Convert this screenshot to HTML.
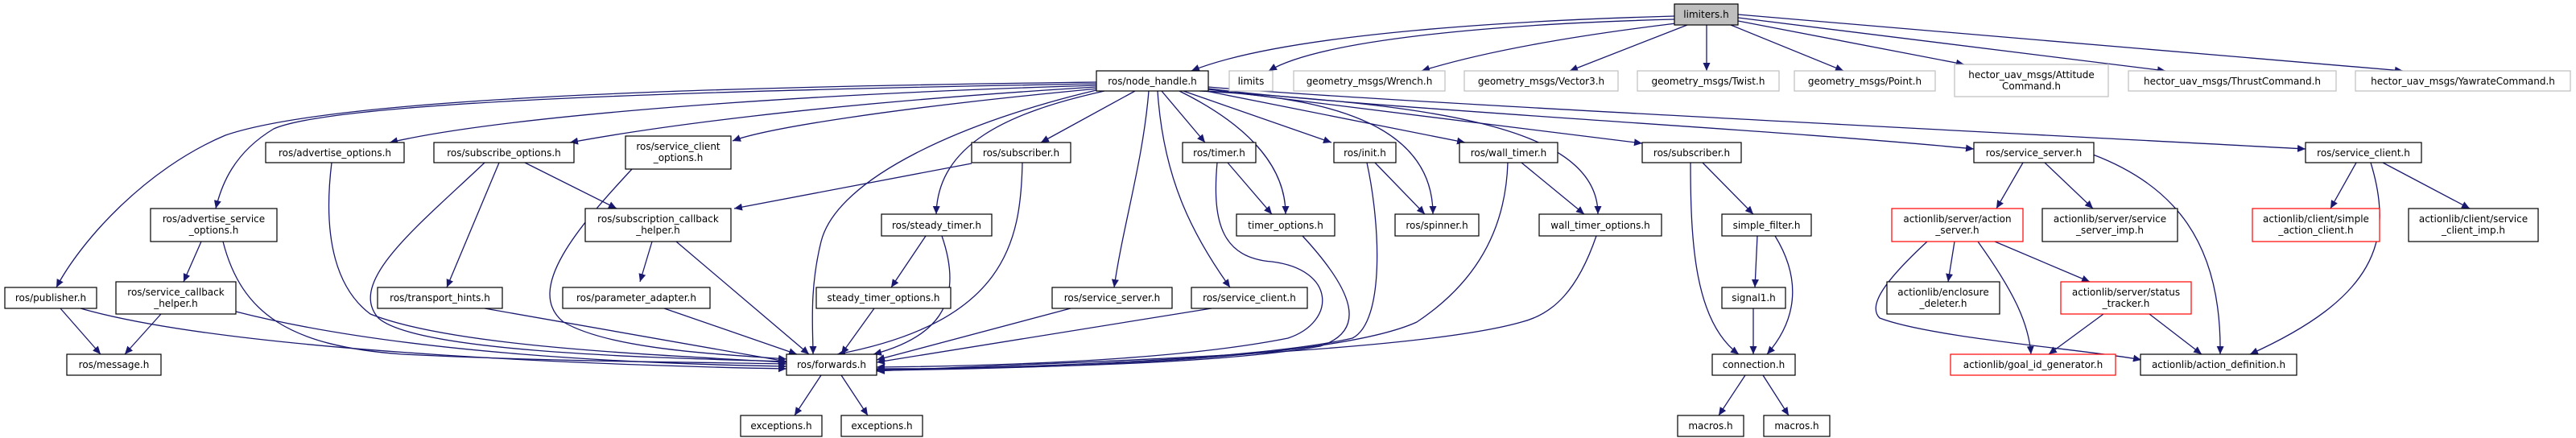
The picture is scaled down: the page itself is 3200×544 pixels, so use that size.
<!DOCTYPE html>
<html><head><meta charset="utf-8"><style>
html,body{margin:0;padding:0;background:#fff;}
svg{display:block;}
text{font-family:"DejaVu Sans","Liberation Sans",sans-serif;font-size:12px;fill:#000;}
.e{fill:none;stroke:#191970;stroke-width:1.3;marker-end:url(#a);}
.n{fill:#fff;stroke:#000;stroke-width:1.2;}
.g{fill:#fff;stroke:#bfbfbf;stroke-width:1.2;}
.r{fill:#fff;stroke:#ff0000;stroke-width:1.2;}
</style></head><body>
<svg width="3200" height="544" viewBox="0 0 3200 544" xmlns="http://www.w3.org/2000/svg">
<defs><marker id="a" markerUnits="userSpaceOnUse" markerWidth="10" markerHeight="9" refX="10" refY="4.5" orient="auto"><path d="M0,0 L10,4.5 L0,9 z" fill="#191970"/></marker></defs>
<g>
<!-- limiters edges -->
<path class="e" d="M2080,20 C1900,25 1600,40 1480,88"/>
<path class="e" d="M2080,24 C1850,30 1640,50 1576,88"/>
<path class="e" d="M2082,29 C1950,45 1840,65 1766,88"/>
<path class="e" d="M2096,31 L1950,88"/>
<path class="e" d="M2120,31 L2120,88"/>
<path class="e" d="M2150,31 L2290,88"/>
<path class="e" d="M2159,26 L2440,80"/>
<path class="e" d="M2159,22 L2690,88"/>
<path class="e" d="M2159,18 L2985,88"/>
<!-- node_handle edges -->
<path class="e" d="M1362,102 C900,108 420,120 280,168 C180,210 100,300 70,357"/>
<path class="e" d="M1362,104 C900,112 420,125 340,160 C290,190 275,230 268,259"/>
<path class="e" d="M1362,106 C900,120 600,150 484,177"/>
<path class="e" d="M1362,108 C1000,130 800,160 708,177"/>
<path class="e" d="M1364,110 C1100,135 950,160 910,175"/>
<path class="e" d="M1362,112 C1200,150 1040,220 1020,300 C1005,360 1010,410 1010,440"/>
<path class="e" d="M1372,113 C1250,140 1165,180 1163,266"/>
<path class="e" d="M1410,113 L1293,177"/>
<path class="e" d="M1427,113 C1420,200 1395,280 1384,357"/>
<path class="e" d="M1438,113 C1445,220 1480,290 1528,357"/>
<path class="e" d="M1443,113 L1497,177"/>
<path class="e" d="M1465,113 C1540,150 1597,200 1597,266"/>
<path class="e" d="M1470,113 L1654,177"/>
<path class="e" d="M1490,113 C1640,120 1780,150 1780,266"/>
<path class="e" d="M1498,113 L1820,177"/>
<path class="e" d="M1500,113 C1750,130 1985,150 1985,266"/>
<path class="e" d="M1501,111 L2040,178"/>
<path class="e" d="M1501,110 C1700,135 2200,160 2452,185"/>
<path class="e" d="M1501,108 C1700,125 2300,155 2864,185"/>
<!-- left cluster -->
<path class="e" d="M250,300 L228,350"/>
<path class="e" d="M277,300 C300,390 360,430 500,440 C700,450 900,450 977,452"/>
<path class="e" d="M75,383 L125,440"/>
<path class="e" d="M100,383 C300,440 800,455 977,458"/>
<path class="e" d="M200,390 L155,440"/>
<path class="e" d="M293,387 C500,440 800,452 977,455"/>
<path class="e" d="M412,202 C400,300 420,360 460,390 C560,430 800,440 977,450"/>
<path class="e" d="M602,202 C520,280 430,350 470,395 C520,440 850,445 977,449"/>
<path class="e" d="M620,202 L555,357"/>
<path class="e" d="M652,202 L766,259"/>
<path class="e" d="M785,210 C720,280 650,360 700,400 C760,435 900,440 977,446"/>
<path class="e" d="M1207,203 L912,259"/>
<path class="e" d="M810,300 L795,350"/>
<path class="e" d="M840,300 L1005,440"/>
<path class="e" d="M602,383 L977,449"/>
<path class="e" d="M825,383 L990,440"/>
<path class="e" d="M1270,202 C1268,300 1250,400 1040,440"/>
<path class="e" d="M1150,293 L1107,357"/>
<path class="e" d="M1170,293 C1200,380 1160,420 1085,440"/>
<path class="e" d="M1086,383 L1045,440"/>
<path class="e" d="M1330,383 L1089,447"/>
<path class="e" d="M1505,383 L1089,450"/>
<path class="e" d="M1512,202 C1505,280 1520,320 1580,325 C1660,335 1660,400 1600,420 C1450,450 1200,455 1089,456"/>
<path class="e" d="M1525,202 L1580,266"/>
<path class="e" d="M1618,293 C1680,360 1700,410 1640,430 C1500,455 1200,458 1089,458"/>
<path class="e" d="M1698,202 C1715,280 1720,400 1680,420 C1550,450 1200,458 1089,459"/>
<path class="e" d="M1708,202 L1770,266"/>
<path class="e" d="M1873,202 C1870,300 1820,360 1760,400 C1650,450 1250,458 1089,460"/>
<path class="e" d="M1890,202 L1968,266"/>
<path class="e" d="M1983,293 C1960,360 1930,390 1890,400 C1750,440 1300,450 1089,461"/>
<path class="e" d="M1020,466 L987,516"/>
<path class="e" d="M1045,466 L1078,516"/>
<!-- subscriber2 cluster -->
<path class="e" d="M2100,202 C2100,300 2105,400 2160,440"/>
<path class="e" d="M2115,202 L2178,266"/>
<path class="e" d="M2183,293 L2180,357"/>
<path class="e" d="M2205,293 C2240,350 2230,400 2195,440"/>
<path class="e" d="M2178,383 L2178,440"/>
<path class="e" d="M2168,466 L2135,516"/>
<path class="e" d="M2190,466 L2222,516"/>
<!-- actionlib -->
<path class="e" d="M2513,202 L2480,259"/>
<path class="e" d="M2540,202 L2600,259"/>
<path class="e" d="M2600,192 C2700,230 2760,300 2758,440"/>
<path class="e" d="M2927,202 L2895,259"/>
<path class="e" d="M2960,202 L3068,259"/>
<path class="e" d="M2945,202 C2975,300 2950,370 2795,440"/>
<path class="e" d="M2394,300 C2340,350 2320,380 2335,395 C2400,420 2600,435 2660,447"/>
<path class="e" d="M2428,300 L2420,350"/>
<path class="e" d="M2457,300 C2500,360 2520,400 2523,440"/>
<path class="e" d="M2478,300 L2596,350"/>
<path class="e" d="M2613,390 L2545,440"/>
<path class="e" d="M2670,390 L2735,440"/>
</g>
<g text-anchor="middle">
<rect x="2080" y="5" width="79" height="26" fill="#bfbfbf" stroke="#000" stroke-width="1.2"/><text x="2119.5" y="22">limiters.h</text>
<rect class="n" x="1362" y="88" width="139" height="25"/><text x="1431.5" y="105">ros/node_handle.h</text>
<rect class="g" x="1527" y="88" width="54" height="25"/><text x="1554" y="105">limits</text>
<rect class="g" x="1607" y="88" width="188" height="25"/><text x="1701" y="105">geometry_msgs/Wrench.h</text>
<rect class="g" x="1819" y="88" width="191" height="25"/><text x="1914.5" y="105">geometry_msgs/Vector3.h</text>
<rect class="g" x="2034" y="88" width="176" height="25"/><text x="2122" y="105">geometry_msgs/Twist.h</text>
<rect class="g" x="2229" y="88" width="175" height="25"/><text x="2316.5" y="105">geometry_msgs/Point.h</text>
<rect class="g" x="2428" y="80" width="191" height="40"/><text x="2523.5" y="97">hector_uav_msgs/Attitude</text><text x="2523.5" y="111">Command.h</text>
<rect class="g" x="2644" y="88" width="258" height="25"/><text x="2773" y="105">hector_uav_msgs/ThrustCommand.h</text>
<rect class="g" x="2926" y="88" width="267" height="25"/><text x="3059.5" y="105">hector_uav_msgs/YawrateCommand.h</text>

<rect class="n" x="330" y="177" width="172" height="25"/><text x="416" y="194">ros/advertise_options.h</text>
<rect class="n" x="539" y="177" width="174" height="25"/><text x="626" y="194">ros/subscribe_options.h</text>
<rect class="n" x="777" y="169" width="131" height="41"/><text x="842.5" y="186">ros/service_client</text><text x="842.5" y="200">_options.h</text>
<rect class="n" x="1207" y="177" width="123" height="25"/><text x="1268.5" y="194">ros/subscriber.h</text>
<rect class="n" x="1469" y="177" width="91" height="25"/><text x="1514.5" y="194">ros/timer.h</text>
<rect class="n" x="1657" y="177" width="77" height="25"/><text x="1695.5" y="194">ros/init.h</text>
<rect class="n" x="1813" y="177" width="122" height="25"/><text x="1874" y="194">ros/wall_timer.h</text>
<rect class="n" x="2040" y="177" width="123" height="25"/><text x="2101.5" y="194">ros/subscriber.h</text>
<rect class="n" x="2452" y="177" width="149" height="25"/><text x="2526.5" y="194">ros/service_server.h</text>
<rect class="n" x="2864" y="177" width="144" height="25"/><text x="2936" y="194">ros/service_client.h</text>

<rect class="n" x="187" y="259" width="157" height="41"/><text x="265.5" y="276">ros/advertise_service</text><text x="265.5" y="290">_options.h</text>
<rect class="n" x="727" y="259" width="181" height="41"/><text x="817.5" y="276">ros/subscription_callback</text><text x="817.5" y="290">_helper.h</text>
<rect class="n" x="1095" y="266" width="137" height="27"/><text x="1163.5" y="284">ros/steady_timer.h</text>
<rect class="n" x="1536" y="266" width="122" height="27"/><text x="1597" y="284">timer_options.h</text>
<rect class="n" x="1733" y="266" width="104" height="27"/><text x="1785" y="284">ros/spinner.h</text>
<rect class="n" x="1912" y="266" width="152" height="27"/><text x="1988" y="284">wall_timer_options.h</text>
<rect class="n" x="2139" y="266" width="111" height="27"/><text x="2194.5" y="284">simple_filter.h</text>
<rect class="r" x="2350" y="259" width="163" height="41"/><text x="2431.5" y="276">actionlib/server/action</text><text x="2431.5" y="290">_server.h</text>
<rect class="n" x="2537" y="259" width="168" height="41"/><text x="2621" y="276">actionlib/server/service</text><text x="2621" y="290">_server_imp.h</text>
<rect class="r" x="2798" y="259" width="158" height="41"/><text x="2877" y="276">actionlib/client/simple</text><text x="2877" y="290">_action_client.h</text>
<rect class="n" x="2992" y="259" width="161" height="41"/><text x="3072.5" y="276">actionlib/client/service</text><text x="3072.5" y="290">_client_imp.h</text>

<rect class="n" x="6" y="357" width="114" height="26"/><text x="63" y="374">ros/publisher.h</text>
<rect class="n" x="144" y="350" width="149" height="40"/><text x="218.5" y="367">ros/service_callback</text><text x="218.5" y="381">_helper.h</text>
<rect class="n" x="469" y="357" width="155" height="26"/><text x="546.5" y="374">ros/transport_hints.h</text>
<rect class="n" x="699" y="357" width="183" height="26"/><text x="790.5" y="374">ros/parameter_adapter.h</text>
<rect class="n" x="1014" y="357" width="167" height="26"/><text x="1097.5" y="374">steady_timer_options.h</text>
<rect class="n" x="1307" y="357" width="149" height="26"/><text x="1381.5" y="374">ros/service_server.h</text>
<rect class="n" x="1480" y="357" width="144" height="26"/><text x="1552" y="374">ros/service_client.h</text>
<rect class="n" x="2139" y="357" width="79" height="26"/><text x="2178.5" y="374">signal1.h</text>
<rect class="n" x="2344" y="350" width="140" height="40"/><text x="2414" y="367">actionlib/enclosure</text><text x="2414" y="381">_deleter.h</text>
<rect class="r" x="2560" y="350" width="162" height="40"/><text x="2641" y="367">actionlib/server/status</text><text x="2641" y="381">_tracker.h</text>

<rect class="n" x="83" y="440" width="117" height="26"/><text x="141.5" y="457">ros/message.h</text>
<rect class="n" x="977" y="440" width="112" height="26"/><text x="1033" y="457">ros/forwards.h</text>
<rect class="n" x="2127" y="440" width="103" height="26"/><text x="2178.5" y="457">connection.h</text>
<rect class="r" x="2423" y="440" width="205" height="26"/><text x="2525.5" y="457">actionlib/goal_id_generator.h</text>
<rect class="n" x="2659" y="440" width="194" height="26"/><text x="2756" y="457">actionlib/action_definition.h</text>

<rect class="n" x="920" y="516" width="101" height="26"/><text x="970.5" y="533">exceptions.h</text>
<rect class="n" x="1045" y="516" width="101" height="26"/><text x="1095.5" y="533">exceptions.h</text>
<rect class="n" x="2084" y="516" width="82" height="26"/><text x="2125" y="533">macros.h</text>
<rect class="n" x="2191" y="516" width="82" height="26"/><text x="2232" y="533">macros.h</text>
</g>
</svg>
</body></html>
